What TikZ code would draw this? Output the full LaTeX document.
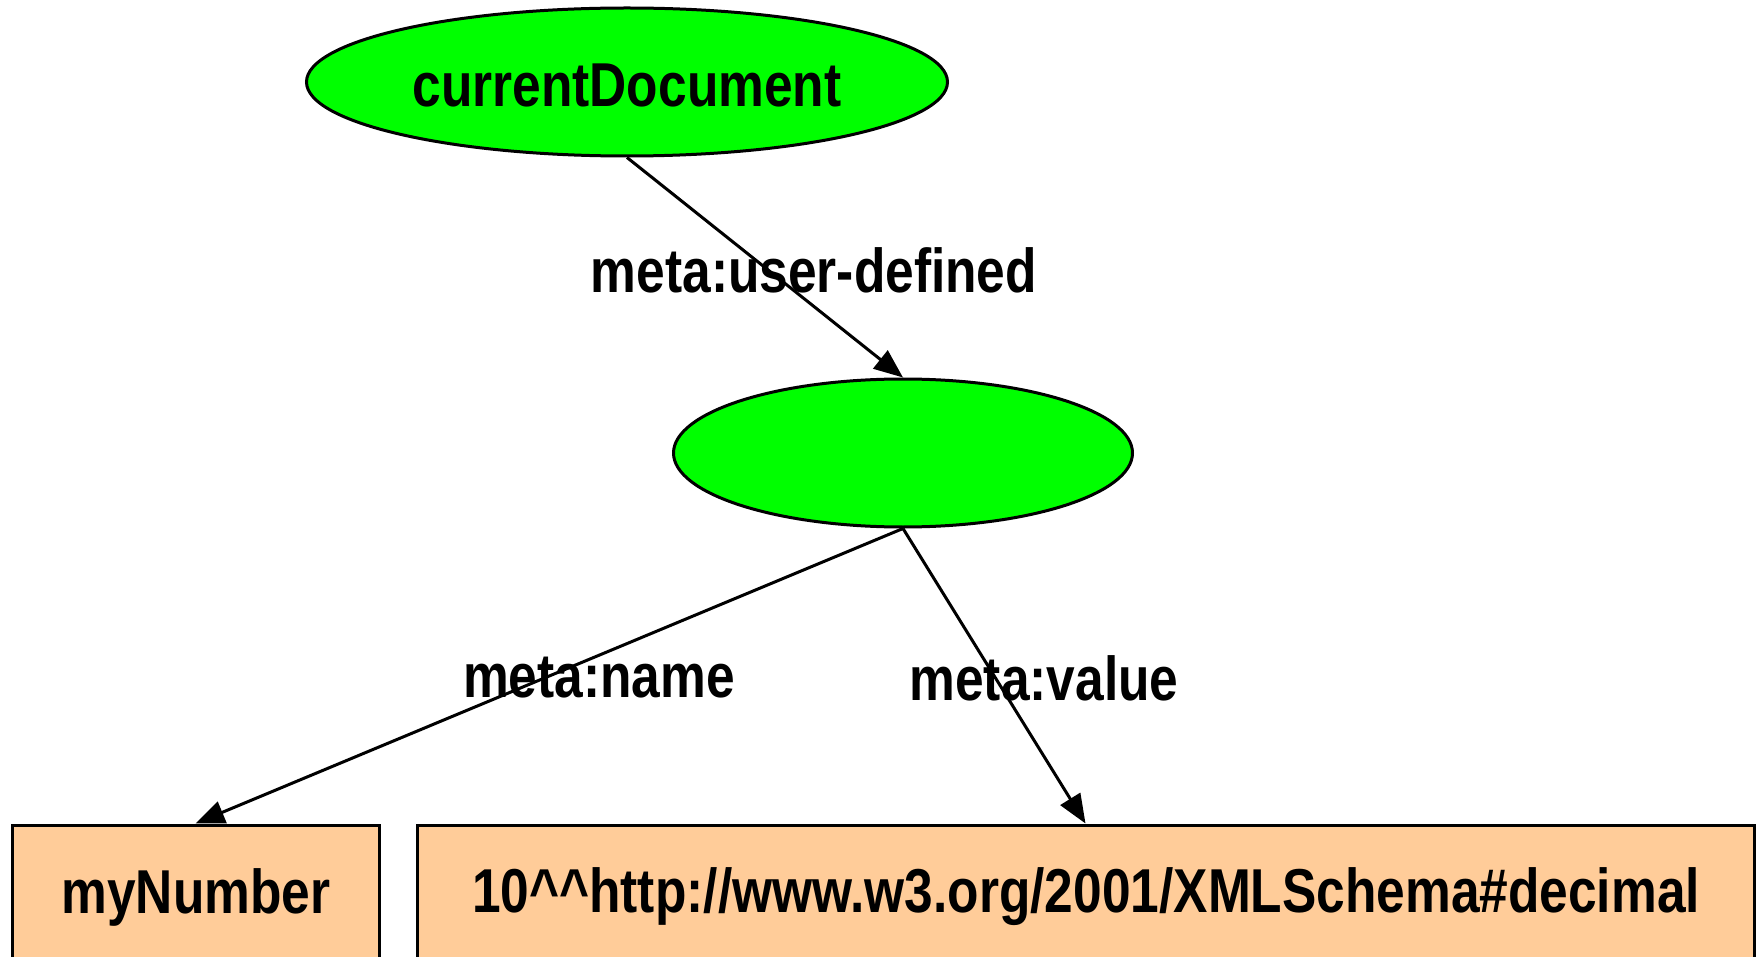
\documentclass[tikz,border=0pt]{standalone}
\usepackage{fontspec}
\setmainfont{Liberation Sans}[FakeStretch=0.83]
\usetikzlibrary{shapes.geometric,arrows.meta}
\definecolor{nodegreen}{HTML}{00FF00}
\definecolor{litfill}{HTML}{FFCC99}
\tikzset{
  resnode/.style={ellipse, draw=black, line width=3pt, fill=nodegreen, inner sep=0pt},
  litnode/.style={rectangle, draw=black, line width=3pt, fill=litfill, inner sep=0pt},
  lbl/.style={font=\fontsize{62}{70}\selectfont\bfseries, inner sep=0pt},
  edge/.style={line width=3pt, -{Triangle[length=29pt,width=23pt]}},
}
\begin{document}
\begin{tikzpicture}[x=1pt,y=-1pt]
\clip (0,0) rectangle (1756,957);
\fill[white] (0,0) rectangle (1756,957);
% resource nodes
\node[resnode, minimum width=641pt, minimum height=148pt] (doc) at (627,82) {};
\node[lbl] (doct) at (627,85) {currentDocument};
\node[resnode, minimum width=459pt, minimum height=148pt] (ud) at (903,453) {};
% literal nodes (cut off by the lower edge)
\node[litnode, minimum width=367pt, minimum height=142pt] (name) at (195.5,896) {};
\node[lbl] (namet) at (196,897) {myNumber};
\node[litnode, minimum width=1337pt, minimum height=142pt] (val) at (1085.5,896) {};
\node[lbl] (valt) at (1086,897) {10\textasciicircum\textasciicircum http://www.w3.org/2001/XMLSchema\#decimal};
% properties
\draw[edge] (doc.south) -- (ud.north);
\draw[edge] (ud.south) -- (name.north);
\draw[edge] (ud.south) -- (val.north);
\node[lbl] (l1) at (814,270) {meta:user-defined};
\node[lbl] (l2) at (599,678) {meta:name};
\node[lbl] (l3) at (1044,678) {meta:value};
\end{tikzpicture}
\end{document}
